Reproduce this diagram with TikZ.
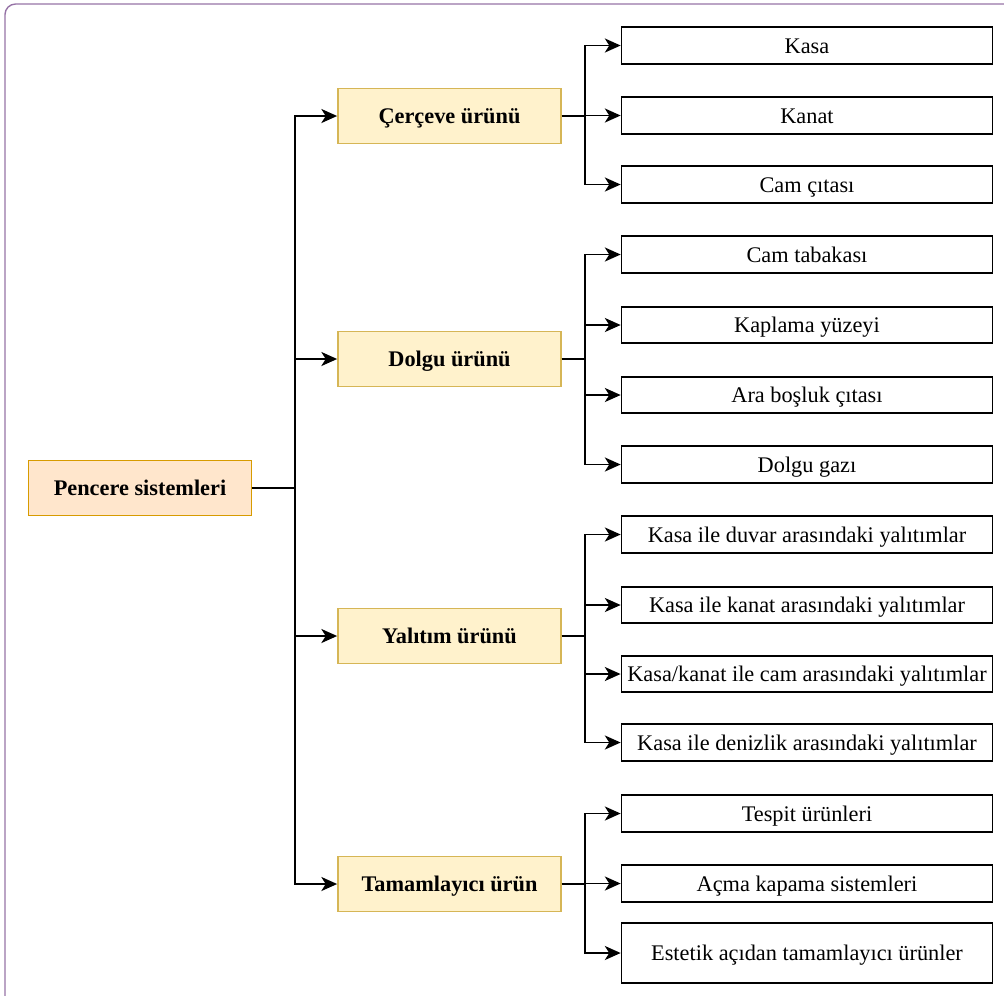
\documentclass[tikz,border=0pt]{standalone}
\usepackage{fontspec}
\setmainfont{Liberation Serif}
\usepackage{tikz}
\usetikzlibrary{arrows.meta,positioning}
\definecolor{rootfill}{HTML}{FFE6CC}
\definecolor{rootdraw}{HTML}{D79B00}
\definecolor{midfill}{HTML}{FFF2CC}
\definecolor{middraw}{HTML}{D6B656}
\definecolor{frame}{HTML}{9673A6}
\tikzset{
  boxtext/.style={font=\fontsize{12.7}{14}\selectfont#1, text height=1.9ex, text depth=0ex},
  rootbox/.style={draw=rootdraw, fill=rootfill, line width=1pt, minimum width=4.46cm, minimum height=1.1cm, boxtext=\bfseries},
  midbox/.style={draw=middraw, fill=midfill, line width=1pt, minimum width=4.46cm, minimum height=1.1cm, boxtext=\bfseries},
  leafbox/.style={draw, line width=1pt, minimum width=7.42cm, minimum height=0.73cm, boxtext=},
  arr/.style={-{Stealth[length=9pt,width=8pt,inset=2.5pt]}, line width=1pt},
}
\begin{document}
\begin{tikzpicture}[x=0.02cm, y=-0.02cm]
  \useasboundingbox (0,0) rectangle (1004,995);
  % page frame
  \draw[frame, line width=0.8pt, rounded corners=6pt] (5,1000) -- (5,4) -- (1010,4);
  % root
  \node[rootbox] (root) at (140,488) {Pencere sistemleri};
  % main groups
  \node[midbox] (cer) at (449.5,116) {Çerçeve ürünü};
  \node[midbox] (dol) at (449.5,359) {Dolgu ürünü};
  \node[midbox] (yal) at (449.5,636) {Yalıtım ürünü};
  \node[midbox] (tam) at (449.5,884) {Tamamlayıcı ürün};
  % leaves
  \node[leafbox] (kasa) at (807,45.5) {Kasa};
  \node[leafbox] (kanat) at (807,115.5) {Kanat};
  \node[leafbox] (cita) at (807,184.5) {Cam çıtası};
  \node[leafbox] (tabaka) at (807,254.5) {Cam tabakası};
  \node[leafbox] (kaplama) at (807,325) {Kaplama yüzeyi};
  \node[leafbox] (araboş) at (807,395) {Ara boşluk çıtası};
  \node[leafbox] (gaz) at (807,464.5) {Dolgu gazı};
  \node[leafbox] (duvar) at (807,534.5) {Kasa ile duvar arasındaki yalıtımlar};
  \node[leafbox] (kanatyal) at (807,605) {Kasa ile kanat arasındaki yalıtımlar};
  \node[leafbox] (camyal) at (807,674) {Kasa/kanat ile cam arasındaki yalıtımlar};
  \node[leafbox] (denizlik) at (807,742.5) {Kasa ile denizlik arasındaki yalıtımlar};
  \node[leafbox] (tespit) at (807,813.5) {Tespit ürünleri};
  \node[leafbox] (acma) at (807,883.5) {Açma kapama sistemleri};
  \node[leafbox, minimum height=1.2cm] (estetik) at (807,953) {Estetik açıdan tamamlayıcı ürünler};
  % connectors root -> groups
  \coordinate (trunk) at (295,488);
  \draw[line width=1pt] (root.east) -- (trunk);
  \foreach \m in {cer,dol,yal,tam}
    \draw[arr] (trunk) |- (\m.west);
  % connectors groups -> leaves
  \foreach \m/\leaves in {cer/{kasa,kanat,cita}, dol/{tabaka,kaplama,araboş,gaz},
      yal/{duvar,kanatyal,camyal,denizlik}, tam/{tespit,acma,estetik}}
    \foreach \l in \leaves
      \draw[arr] (\m.east) -- ++(23,0) |- (\l.west);
\end{tikzpicture}
\end{document}
